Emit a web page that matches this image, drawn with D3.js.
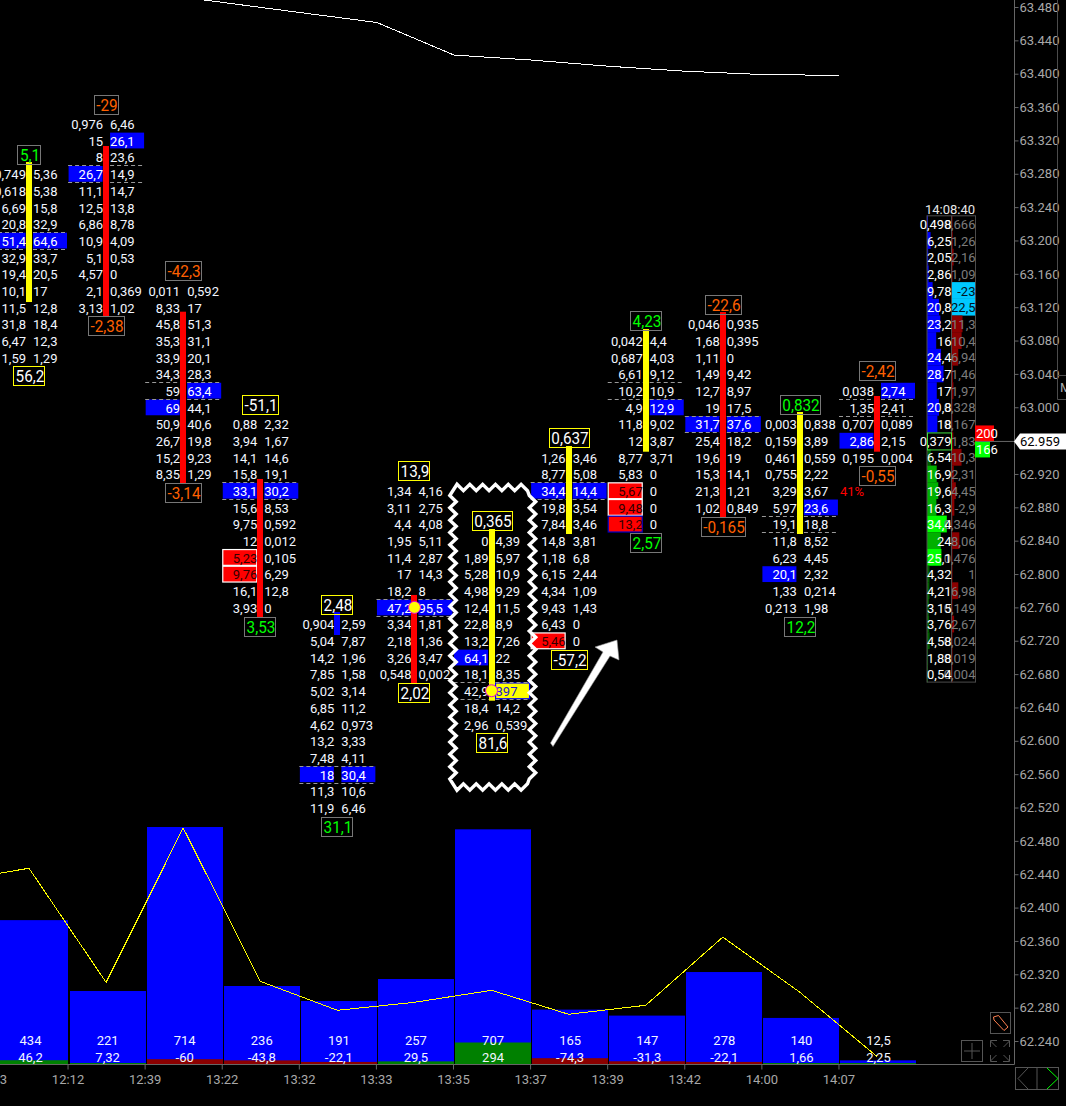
<!DOCTYPE html>
<html>
<head>
<meta charset="utf-8">
<script src="https://cdnjs.cloudflare.com/ajax/libs/d3/7.8.5/d3.min.js"></script>
<style>
	html, body { margin: 0; padding: 0; background: #000; overflow: hidden; }
	svg { display: block; }
	text { font-family: Roboto, "Noto Sans", sans-serif; font-size: 13px; fill: #f2f6ff; }
	.axis text { fill: #a8a8a8; font-family: Roboto, sans-serif; font-size: 13px; }
	.axis line { stroke: #666; }
</style>
</head>
<body>
<script>
var timeLabels = ["12:03", "12:12", "12:39", "13:22", "13:32", "13:33", "13:35", "13:37", "13:39", "13:42", "14:00", "14:07"];
var volumes = [434, 221, 714, 236, 191, 257, 707, 165, 147, 278, 140, 12.5];
var deltas = [46.2, 7.32, -60, -43.8, -22.1, 29.5, 294, -74.3, -31.3, -22.1, 1.66, 2.25];
// yellow line, first point is off the left edge
var indicator = [551, 590, 247, 711, 250, 163, 187, 223, 151, 178, 383, 217, 24];
// thin white line on the bar edges, first point is above the top edge
var upperLine = [63.4976, 63.4855, 63.4734, 63.4614, 63.4224, 63.4164, 63.409, 63.403, 63.399, 63.398];

// price of the first row of each bar
var firstPrice = [63.28, 63.34, 63.14, 62.98, 62.74, 62.90, 62.84, 62.94, 63.08, 63.10, 62.98, 63.02];
var pocPrice = [63.20, 63.28, 63.02, 62.90, 62.56, 62.76, 62.66, 62.90, 63.02, 62.98, 62.86, 63.00];
var barHigh = [63.2941, 63.3133, 63.1146, 62.914, 62.7545, 62.7749, 62.854, 62.9535, 63.0938, 63.1142, 62.9943, 63.0135];
var barLow = [63.1262, 63.1082, 62.908, 62.7485, 62.7269, 62.6681, 62.6481, 62.848, 62.9467, 62.8684, 62.848, 62.9467];
var barKind = ["up", "down", "down", "down", "flat", "down", "up", "up", "up", "down", "up", "down"];

var bids = [
	[0.749, 0.618, 6.69, 20.8, 51.4, 32.9, 19.4, 10.1, 11.5, 31.8, 6.47, 1.59],
	[0.976, 15, 8, 26.7, 11.1, 12.5, 6.86, 10.9, 5.1, 4.57, 2.1, 3.13],
	[0.011, 8.33, 45.8, 35.3, 33.9, 34.3, 59, 69, 50.9, 26.7, 15.2, 8.35],
	[0.88, 3.94, 14.1, 15.8, 33.1, 15.6, 9.75, 12, 5.23, 9.76, 16.1, 3.93],
	[0.904, 5.04, 14.2, 7.85, 5.02, 6.85, 4.62, 13.2, 7.48, 18, 11.3, 11.9],
	[1.34, 3.11, 4.4, 1.95, 11.4, 17, 18.2, 47.2, 3.34, 2.18, 3.26, 0.548],
	[0, 1.89, 5.28, 4.98, 12.4, 22.8, 13.2, 64.1, 18.1, 42.9, 18.4, 2.96],
	[1.26, 8.77, 34.4, 19.8, 7.84, 14.8, 1.18, 6.15, 4.34, 9.43, 6.43, 5.46],
	[0.042, 0.687, 6.61, 10.2, 4.9, 11.8, 12, 8.77, 5.83, 5.67, 9.48, 13.2],
	[0.046, 1.68, 1.11, 1.49, 12.7, 19, 31.7, 25.4, 19.6, 15.3, 21.3, 1.02],
	[0.003, 0.159, 0.461, 0.755, 3.29, 5.97, 19.1, 11.8, 6.23, 20.1, 1.33, 0.213],
	[0.038, 1.35, 0.707, 2.86, 0.195]
];
var asks = [
	[5.36, 5.38, 15.8, 32.9, 64.6, 33.7, 20.5, 17, 12.8, 18.4, 12.3, 1.29],
	[6.46, 26.1, 23.6, 14.9, 14.7, 13.8, 8.78, 4.09, 0.53, 0, 0.369, 1.02],
	[0.592, 17, 51.3, 31.1, 20.1, 28.3, 63.4, 44.1, 40.6, 19.8, 9.23, 1.29],
	[2.32, 1.67, 14.6, 19.1, 30.2, 8.53, 0.592, 0.012, 0.105, 6.29, 12.8, 0],
	[2.59, 7.87, 1.96, 1.58, 3.14, 11.2, 0.973, 3.33, 4.11, 30.4, 10.6, 6.46],
	[4.16, 2.75, 4.08, 5.11, 2.87, 14.3, 8, 95.5, 1.81, 1.36, 3.47, 0.002],
	[4.39, 5.97, 10.9, 9.29, 11.5, 8.9, 7.26, 22, 8.35, 397, 14.2, 0.539],
	[3.46, 5.08, 14.4, 3.54, 3.46, 3.81, 6.8, 2.44, 1.09, 1.43, 0, 0],
	[4.4, 4.03, 9.12, 10.9, 12.9, 9.02, 3.87, 3.71, 0, 0, 0, 0],
	[0.935, 0.395, 0, 9.42, 8.97, 17.5, 37.6, 18.2, 19, 14.1, 1.21, 0.849],
	[0.838, 3.89, 0.559, 2.22, 3.67, 23.6, 18.8, 8.52, 4.45, 2.32, 0.214, 1.98],
	[2.74, 2.41, 0.089, 2.15, 0.004]
];

var topLabels = [5.1, -29, -42.3, -51.1, 2.48, 13.9, 0.365, 0.637, 4.23, -22.6, 0.832, -2.42];
var topKinds = ["pos", "neg", "neg", "plain", "plain", "plain", "plain", "plain", "pos", "neg", "pos", "neg"];
var bottomLabels = [56.2, -2.38, -3.14, 3.53, 31.1, 2.02, 81.6, -57.2, 2.57, -0.165, 12.2, -0.55];
var bottomKinds = ["plain", "neg", "neg", "pos", "pos", "plain", "plain", "plain", "pos", "neg", "pos", "neg"];

// [bar, price, side]
var blueCells = [[0, 63.20, "L"], [0, 63.20, "R"], [1, 63.32, "R"], [1, 63.28, "L"], [2, 63.02, "R"], [2, 63.00, "L"],
	[3, 62.90, "L"], [3, 62.90, "R"], [4, 62.56, "L"], [4, 62.56, "R"], [5, 62.76, "L"], [5, 62.76, "R"],
	[6, 62.70, "L"], [7, 62.90, "L"], [7, 62.90, "R"], [8, 63.00, "R"], [9, 62.98, "L"], [9, 62.98, "R"],
	[10, 62.88, "R"], [10, 62.80, "L"], [11, 63.02, "R"], [11, 62.96, "L"]];
var redCells = [[3, 62.82, "L"], [3, 62.80, "L"], [7, 62.72, "L"], [8, 62.90, "L"], [8, 62.88, "L"]];
var redBlueCells = [[8, 62.86, "L"]];
var yellowCells = [[6, 62.66, "R"]];
var pocCircles = [[5, 62.76], [6, 62.66]];

// live bar at the right
var profileFirst = 63.22;
var profileBids = [0.498, 6.25, 2.05, 2.86, 9.78, 20.8, 23.2, 16, 24.4, 28.7, 17, 20.8, 18, 0.379, 6.54, 16.9, 19.6, 16.3, 34.4, 24, 25.1, 4.32, 4.21, 3.15, 3.76, 4.58, 1.88, 0.54];
var profileAsks = [0.666, 1.26, 2.16, 1.09, -23, 22.5, 11.3, 10.4, 6.94, 1.46, 1.97, 0.328, 0.167, 1.83, 10.3, 2.31, 4.45, -2.9, 0.346, 8.06, 0.476, 1, 6.98, 0.149, 2.67, 0.024, 0.019, 0.004];
var profileLast = 62.959;
var profileBrightAsks = [63.14, 63.12];
var profileBrightBids = [62.86, 62.82];
var sideCounts = [200, 166];
var priceTicks = d3.range(0, 32).map(function(i) { return 63.48 - 0.04 * i; });

var width = 1066,
	height = 1106,
	baseY = 1064.5,
	axisX = 1014.5;

var colors = { blue: "#0000ff", red: "#ff0000", yellow: "#ffff00", green: "#00ff00", orange: "#ff6000", darkRed: "#8b0000", darkGreen: "#008000", box: "#777" };

var x = d3.scaleLinear().domain([0, 11]).range([29, 877]);
var y = d3.scaleLinear().domain([63.48, 62.24]).range([7, 1041]);
var volY = d3.scaleLinear().domain([0, 714]).range([baseY, 827]);
var deltaH = d3.scaleLinear().domain([0, 294]).range([1, 22]);
var profileW = d3.scaleLinear().domain([0, 28.7]).range([0, 16.5]);
var profileAskW = d3.scaleLinear().domain([0, 11.3]).range([0, 11]);

var fmt = function(v) { return String(v).replace(".", ","); };
var key = function(c) { return c[0] + "|" + c[1].toFixed(2) + "|" + c[2]; };

var svg = d3.select("body").append("svg")
	.attr("width", width)
	.attr("height", height);

/* volume pane */
var volume = svg.append("g");

volume.selectAll("rect.vol").data(volumes).join("rect")
	.attr("class", "vol")
	.attr("x", function(d, i) { return Math.round(x(i - 0.5)) + 2; })
	.attr("width", 76)
	.attr("y", function(d) { return volY(d); })
	.attr("height", function(d) { return baseY - volY(d); })
	.attr("fill", colors.blue);

volume.selectAll("rect.delta").data(deltas).join("rect")
	.attr("class", "delta")
	.attr("x", function(d, i) { return Math.round(x(i - 0.5)) + 2; })
	.attr("width", 76)
	.attr("y", function(d) { return baseY - Math.max(1.5, deltaH(Math.abs(d))); })
	.attr("height", function(d) { return Math.max(1.5, deltaH(Math.abs(d))); })
	.attr("fill", function(d) { return d < 0 ? colors.darkRed : colors.darkGreen; });

var indicatorLine = d3.line()
	.x(function(d, i) { return x(i - 1); })
	.y(function(d) { return volY(d); });

volume.append("path")
	.attr("d", indicatorLine(indicator))
	.attr("fill", "none")
	.attr("stroke", colors.yellow)
	.attr("stroke-width", 1)
	.attr("shape-rendering", "crispEdges");

volume.selectAll("text.vol").data(volumes).join("text")
	.attr("class", "vol")
	.attr("x", function(d, i) { return x(i) + 1.5; })
	.attr("y", 1045)
	.attr("text-anchor", "middle")
	.text(fmt);

volume.selectAll("text.delta").data(deltas).join("text")
	.attr("class", "delta")
	.attr("x", function(d, i) { return x(i) + 1.5; })
	.attr("y", 1062)
	.attr("text-anchor", "middle")
	.text(fmt);

/* upper white line */
var upper = d3.line()
	.x(function(d, i) { return x(i + 1.5) + 1; })
	.y(function(d) { return y(d); });

svg.append("path")
	.attr("d", upper(upperLine))
	.attr("fill", "none")
	.attr("stroke", "#fff")
	.attr("stroke-width", 1)
	.attr("shape-rendering", "crispEdges");

/* footprint bars */
var cellKinds = {};
blueCells.forEach(function(c) { cellKinds[key(c)] = "blue"; });
redCells.forEach(function(c) { cellKinds[key(c)] = "red"; });
redBlueCells.forEach(function(c) { cellKinds[key(c)] = "redBlue"; });
yellowCells.forEach(function(c) { cellKinds[key(c)] = "yellow"; });

var rows = [];
bids.forEach(function(col, i) {
	col.forEach(function(v, r) {
		var price = firstPrice[i] - 0.02 * r;
		rows.push({ col: i, price: price, side: "L", value: v, kind: cellKinds[key([i, price, "L"])] });
		rows.push({ col: i, price: price, side: "R", value: asks[i][r], kind: cellKinds[key([i, price, "R"])] });
	});
});

var cellFill = { blue: colors.blue, red: colors.red, redBlue: colors.red, yellow: colors.yellow };
var cellStroke = { blue: "none", red: "#fff", redBlue: "#0000c8", yellow: colors.blue };
var cellText = { blue: "#fff", red: "#300000", redBlue: "#300000", yellow: "#2020d0" };

var footprint = svg.append("g");

footprint.selectAll("rect.cell").data(rows.filter(function(d) { return d.kind; })).join("rect")
	.attr("class", "cell")
	.attr("x", function(d) { return d.side == "L" ? x(d.col) - 37.5 : x(d.col) + 4; })
	.attr("y", function(d) { return y(d.price) - 7.8; })
	.attr("width", 34)
	.attr("height", 15.8)
	.attr("fill", function(d) { return cellFill[d.kind]; })
	.attr("stroke", function(d) { return cellStroke[d.kind]; })
	.attr("stroke-width", 1.2);

footprint.selectAll("text.row").data(rows).join("text")
	.attr("class", "row")
	.attr("x", function(d) { return d.side == "L" ? x(d.col) - 3 : x(d.col) + 4; })
	.attr("y", function(d) { return y(d.price) + 5.4; })
	.attr("text-anchor", function(d) { return d.side == "L" ? "end" : "start"; })
	.style("fill", function(d) { return d.kind ? cellText[d.kind] : null; })
	.text(function(d) { return fmt(d.value); });

// dashed lines around the biggest row
pocPrice.forEach(function(p, i) {
	[-1, 1].forEach(function(s) {
		footprint.append("line")
			.attr("x1", x(i) - 38).attr("x2", x(i) + 38)
			.attr("y1", Math.round(y(p) + s * 8.35) + 0.5).attr("y2", Math.round(y(p) + s * 8.35) + 0.5)
			.attr("stroke", "#999")
			.attr("stroke-dasharray", "4,3");
	});
});

var bodyColor = { up: colors.yellow, down: colors.red, flat: colors.blue };
footprint.selectAll("rect.body").data(barHigh).join("rect")
	.attr("class", "body")
	.attr("x", function(d, i) { return Math.round(x(i)) - 3; })
	.attr("y", function(d) { return y(d); })
	.attr("width", 6)
	.attr("height", function(d, i) { return y(barLow[i]) - y(d); })
	.attr("fill", function(d, i) { return bodyColor[barKind[i]]; });

footprint.selectAll("circle.poc").data(pocCircles).join("circle")
	.attr("class", "poc")
	.attr("cx", function(d) { return x(d[0]); })
	.attr("cy", function(d) { return y(d[1]); })
	.attr("r", 6)
	.attr("fill", colors.yellow)
	.attr("stroke", "#e000e0")
	.attr("stroke-width", 1);

// boxed labels over and under the bars
var labelText = { pos: colors.green, neg: colors.orange, plain: "#fff" };
var labelBox = { pos: colors.box, neg: colors.box, plain: colors.yellow };

function boxedLabel(col, price, value, kind, dy) {
	var g = footprint.append("g").attr("transform", "translate(" + (Math.round(x(col)) + 1) + "," + (Math.round(y(price) + dy) + 1.5) + ")");
	var box = g.append("rect");
	var t = g.append("text")
		.attr("text-anchor", "middle")
		.attr("y", 5.5)
		.attr("transform", "scale(0.9,1)")
		.style("font-size", "17px")
		.style("fill", labelText[kind])
		.text(fmt(value));
	var w = Math.ceil(t.node().getComputedTextLength() * 0.9) + 2;
	box.attr("x", -Math.round(w / 2) - 0.5).attr("y", -10).attr("width", w).attr("height", 19)
		.attr("fill", "none")
		.attr("stroke", labelBox[kind]);
}

topLabels.forEach(function(v, i) {
	boxedLabel(i, firstPrice[i] + 0.02, v, topKinds[i], -3.5);
});
bottomLabels.forEach(function(v, i) {
	boxedLabel(i, firstPrice[i] - 0.02 * bids[i].length, v, bottomKinds[i], 1.5);
});

svg.append("text")
	.attr("x", 840)
	.attr("y", y(62.90) + 5.4)
	.style("fill", colors.red)
	.text("41%");

/* live profile */
var profile = svg.append("g");
var profileRows = profileBids.map(function(v, r) {
	var price = +(profileFirst - 0.02 * r).toFixed(2);
	return { price: price, bid: v, ask: profileAsks[r] };
});
var leftX = 927,
	midX = 951.5,
	rightX = 975.5;

profile.selectAll("rect.bid").data(profileRows).join("rect")
	.attr("class", "bid")
	.attr("x", leftX)
	.attr("y", function(d) { return y(d.price) - 8.4; })
	.attr("width", function(d) { return Math.max(1, profileW(d.bid)); })
	.attr("height", 16.8)
	.attr("fill", function(d) {
		if(d.price >= 62.96) return colors.blue;
		if(profileBrightBids.indexOf(d.price) >= 0) return colors.green;
		return d.bid < 10 ? "#006000" : "#00b000";
	});

profile.selectAll("rect.ask").data(profileRows).join("rect")
	.attr("class", "ask")
	.attr("x", midX)
	.attr("y", function(d) { return y(d.price) - 8.4; })
	.attr("width", function(d) {
		return profileBrightAsks.indexOf(d.price) >= 0 ? rightX - midX : Math.max(1, profileAskW(Math.abs(d.ask)));
	})
	.attr("height", 16.8)
	.attr("fill", function(d) { return profileBrightAsks.indexOf(d.price) >= 0 ? "#00c8ff" : colors.darkRed; });

profile.append("rect")
	.attr("x", leftX).attr("y", y(profileFirst) - 8)
	.attr("width", rightX - leftX)
	.attr("height", y(profileRows[profileRows.length - 1].price) - y(profileFirst) + 16)
	.attr("fill", "none")
	.attr("stroke", "#4c4c4c");
profile.append("line")
	.attr("x1", midX).attr("x2", midX)
	.attr("y1", y(profileFirst) - 8).attr("y2", y(profileRows[profileRows.length - 1].price) + 8)
	.attr("stroke", "#4c4c4c");

profile.selectAll("text.ask").data(profileRows).join("text")
	.attr("class", "ask")
	.attr("x", rightX)
	.attr("y", function(d) { return y(d.price) + 5.2; })
	.attr("text-anchor", "end")
	.style("fill", function(d) { return profileBrightAsks.indexOf(d.price) >= 0 ? "#001020" : "#7c7c7c"; })
	.text(function(d) { return fmt(d.ask); });

profile.selectAll("text.bid").data(profileRows).join("text")
	.attr("class", "bid")
	.attr("x", midX)
	.attr("y", function(d) { return y(d.price) + 5.2; })
	.attr("text-anchor", "end")
	.style("fill", "#fff")
	.text(function(d) { return fmt(d.bid); });

profile.append("rect")
	.attr("x", leftX + 0.5).attr("y", y(profileLast) - 8.5)
	.attr("width", 24).attr("height", 17)
	.attr("fill", "none")
	.attr("stroke", "#40e040");

profile.append("text")
	.attr("x", 950).attr("y", 213.5)
	.attr("text-anchor", "middle")
	.style("fill", "#e8e8e8")
	.text("14:08:40");

// bid and ask counters, last price line
[0, 1].forEach(function(i) {
	var top = y(profileLast) + (i ? 0 : -16);
	profile.append("rect")
		.attr("x", 975).attr("y", top)
		.attr("width", i ? 15 : 19).attr("height", 16)
		.attr("fill", i ? colors.green : colors.red);
	profile.append("text")
		.attr("x", 976).attr("y", top + 12.5)
		.style("fill", "#fff")
		.text(sideCounts[i]);
});

/* axes */
var priceAxis = d3.axisRight(y)
	.tickValues(priceTicks)
	.tickSize(4)
	.tickPadding(1)
	.tickFormat(d3.format(".3f"));

var priceG = svg.append("g")
	.attr("class", "axis")
	.attr("transform", "translate(" + axisX + ",0)")
	.call(priceAxis);
priceG.select(".domain").remove();

var timeAxis = d3.axisBottom(x)
	.tickValues(d3.range(12).map(function(i) { return i - 0.5; }))
	.tickSize(5)
	.tickPadding(5)
	.tickFormat(function(d) { return timeLabels[d + 0.5]; });

var timeG = svg.append("g")
	.attr("class", "axis")
	.attr("transform", "translate(0," + baseY + ")")
	.call(timeAxis);
timeG.select(".domain").remove();

var frame = "#666";
svg.append("line").attr("x1", axisX).attr("x2", axisX).attr("y1", 0).attr("y2", baseY).attr("stroke", frame);
svg.append("line").attr("x1", 0).attr("x2", axisX).attr("y1", baseY).attr("y2", baseY).attr("stroke", frame);

// price tag
svg.append("line").attr("x1", 976).attr("x2", axisX).attr("y1", y(profileLast)).attr("y2", y(profileLast)).attr("stroke", frame);
svg.append("path")
	.attr("d", "M1014," + y(profileLast) + "l6,-8h46v16h-46z")
	.attr("fill", "#fff");
svg.append("text")
	.attr("x", 1020)
	.attr("y", y(profileLast) + 4.6)
	.style("fill", "#000")
	.text(d3.format(".3f")(profileLast));

// cut-off side panel at the right edge
svg.append("path").attr("d", "M1057.5,0V399.5H1066M1057.5,375.5H1066").attr("fill", "none").attr("stroke", "#4c4c4c");
svg.append("text").attr("x", 1060).attr("y", 392).style("fill", "#aaa").text("M");

/* hand drawn marks */
function zigzag(x0, y0, x1, y1, step, amp) {
	var pts = [];
	function side(ax, ay, bx, by, nx, ny) {
		var n = Math.round(Math.hypot(bx - ax, by - ay) / step);
		d3.range(n + 1).forEach(function(i) {
			var o = i % 2 ? amp : -amp;
			pts.push([ax + (bx - ax) * i / n + nx * o, ay + (by - ay) * i / n + ny * o]);
		});
	}
	side(x0 + 4, y0, x1 - 5, y0, 0, 1);
	side(x1, y0 + 8, x1, y1 - 8, 1, 0);
	side(x1 - 5, y1, x0 + 4, y1, 0, 1);
	side(x0, y1 - 8, x0, y0 + 8, 1, 0);
	return d3.line().curve(d3.curveLinearClosed)(pts);
}

svg.append("path")
	.attr("d", zigzag(453, 487.5, 532.5, 787, 6.2, 3.2))
	.attr("fill", "none")
	.attr("stroke", "#fff")
	.attr("stroke-width", 3.4);

svg.append("path")
	.attr("d", "M617,640L595,647L603,652L550.5,743L553,746.5L610,656L619,660Z")
	.attr("fill", "#fff")
	.attr("stroke", "#999")
	.attr("stroke-width", 0.6);

/* small widgets */
var widgets = svg.append("g").attr("fill", "none").attr("stroke", "#555");
widgets.append("rect").attr("x", 990.5).attr("y", 1012.5).attr("width", 20).attr("height", 21);
widgets.append("path").attr("d", "M993.5,1017l5,-1.5L1008,1027l-4,3.5L994,1020z").attr("stroke", "#ff8050").attr("stroke-width", 1);
widgets.append("rect").attr("x", 961.5).attr("y", 1040.5).attr("width", 21).attr("height", 21);
widgets.append("path").attr("d", "M972,1043V1059M964,1051H980");
widgets.append("path").attr("d", "M990.5,1047v-6.5h6.5M990.5,1041l6,6M1009.5,1047v-6.5h-6.5M1009.5,1041l-6,6M990.5,1055v6.5h6.5M990.5,1061l6,-6M1009.5,1055v6.5h-6.5M1009.5,1061l-6,-6");
widgets.append("rect").attr("x", 1015.5).attr("y", 1067.5).attr("width", 43).attr("height", 22);
widgets.append("path").attr("d", "M1037,1067.5V1089.5M1028,1068L1018,1078.5L1028,1089");
widgets.append("path").attr("d", "M1047,1068L1058,1078.5L1047,1089").attr("stroke", colors.green);
</script>
</body>
</html>
